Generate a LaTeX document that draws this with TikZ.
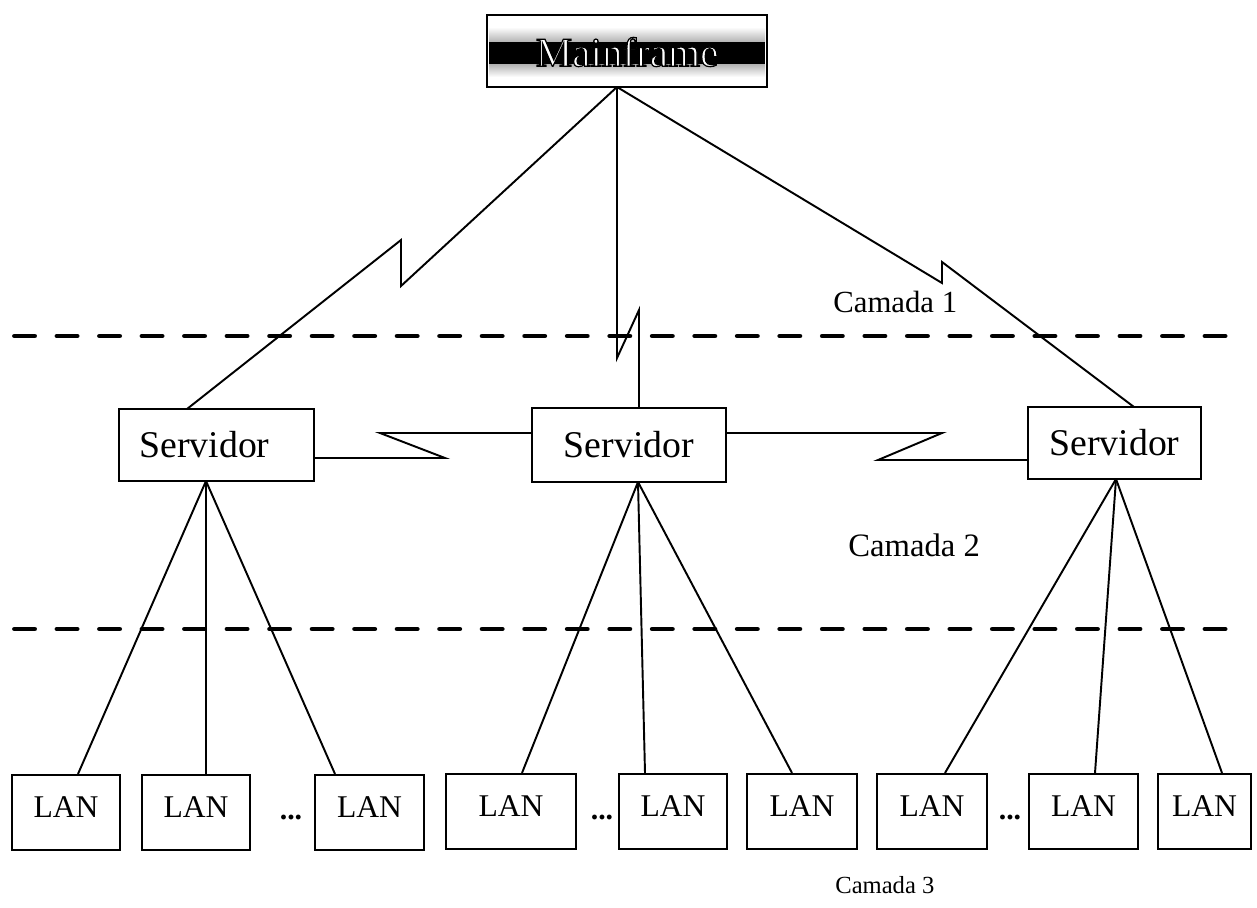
\documentclass[tikz,border=0pt]{standalone}
\usepackage{fontspec}
\setmainfont{Liberation Serif}
\usetikzlibrary{calc}
% white letters with a thin black outline (fill + stroke render mode)
\newcommand{\outlinedtext}[1]{\special{pdf:literal direct 0 G 2 Tr 0.7 w}#1\special{pdf:literal direct 0 Tr}}
\begin{document}
\begin{tikzpicture}[x=0.02cm,y=-0.02cm,
  frame/.style={draw,line width=1.2pt,inner sep=0pt,fill=white},
  serverbox/.style={frame,minimum height=1.44cm,font=\fontsize{21.5}{21.5}\selectfont},
  lanbox/.style={frame,minimum width=2.16cm,minimum height=1.5cm,text depth=6.5pt,font=\fontsize{18}{18}\selectfont},
  link/.style={line width=1.1pt,line join=miter},
  layer/.style={line width=2.8pt,line cap=round,dash pattern=on 11.4pt off 12.8pt},
  layername/.style={anchor=base west,inner sep=0pt,font=\fontsize{17.5}{17.5}\selectfont},
  more/.style={inner sep=0pt,font=\fontsize{17}{17}\selectfont\bfseries}]
\useasboundingbox (0,0) rectangle (1257,907);

% ---- mainframe ----
\node[frame,minimum width=5.6cm,minimum height=1.44cm] (mf) at (627,51) {};
\shade[top color=white,bottom color=gray!60] (489,27) rectangle (765,42);
\fill[black] (489,42) rectangle (765,64);
\shade[top color=gray!60,bottom color=white] (489,64) rectangle (765,77);
\node[inner sep=0pt,font=\fontsize{23.4}{23.4}\selectfont,text=white] (mft) at (627,52) {\outlinedtext{Mainframe}};
\coordinate (mfb) at (617,87);

% ---- servers ----
\node[serverbox,minimum width=3.9cm]  (s1) at (216.5,445) {Servidor\rule{0.48cm}{0pt}};
\node[serverbox,minimum width=3.88cm,minimum height=1.48cm] (s2) at (629,445) {Servidor};
\node[serverbox,minimum width=3.46cm] (s3) at (1114.5,443) {Servidor};

% ---- LANs ----
\node[lanbox] (l1) at (66,812.5) {LAN};
\node[lanbox] (l2) at (196,812.5) {LAN};
\node[lanbox,minimum width=2.18cm] (l3) at (369.5,812.5) {LAN};
\node[lanbox,minimum width=2.6cm]  (l4) at (511,811.5) {LAN};
\node[lanbox] (l5) at (673,811.5) {LAN};
\node[lanbox,minimum width=2.2cm]  (l6) at (802,811.5) {LAN};
\node[lanbox,minimum width=2.2cm]  (l7) at (932,811.5) {LAN};
\node[lanbox,minimum width=2.18cm] (l8) at (1083.5,811.5) {LAN};
\node[lanbox,minimum width=1.86cm] (l9) at (1204.5,811.5) {LAN};

\node[more] (d1) at (291,817) {...};
\node[more] (d2) at (602,817) {...};
\node[more] (d3) at (1010,817) {...};

% ---- radio links from the mainframe ----
\coordinate (a1) at (401,286);
\coordinate (a2) at (401,240);
\coordinate (s1t) at (187,409);
\draw[link] (mfb) -- (a1) -- (a2) -- (s1t);

\coordinate (b1) at (617,358);
\coordinate (b2) at (639,310);
\coordinate (s2t) at (639,408);
\draw[link] (mfb) -- (b1) -- (b2) -- (s2t);

\coordinate (c1) at (942,283);
\coordinate (c2) at (942,262);
\coordinate (s3t) at (1134,407);
\draw[link] (mfb) -- (c1) -- (c2) -- (s3t);

% ---- radio links between servers ----
\coordinate (e1) at (314,458);
\coordinate (e2) at (445,458);
\coordinate (e3) at (380,433);
\coordinate (e4) at (532,433);
\draw[link] (e1) -- (e2) -- (e3) -- (e4);

\coordinate (f1) at (726,433);
\coordinate (f2) at (942,433);
\coordinate (f3) at (878,460);
\coordinate (f4) at (1028,460);
\draw[link] (f1) -- (f2) -- (f3) -- (f4);

% ---- server to LAN links ----
\coordinate (s1b) at (206,481);
\coordinate (s2b) at (638,482);
\coordinate (s3b) at (1116,479);
\draw[link] (s1b) -- (l1.north -| 78,0);
\draw[link] (s1b) -- (l2.north -| 206,0);
\draw[link] (s1b) -- (l3.north -| 335,0);
\draw[link] (s2b) -- (l4.north -| 522,0);
\draw[link] (s2b) -- (l5.north -| 645,0);
\draw[link] (s2b) -- (l6.north -| 792,0);
\draw[link] (s3b) -- (l7.north -| 945,0);
\draw[link] (s3b) -- (l8.north -| 1095,0);
\draw[link] (s3b) -- (l9.north -| 1222,0);

% ---- layer separators ----
\coordinate (g1) at (14.5,336);
\coordinate (g2) at (1228,336);
\coordinate (h1) at (14.5,629);
\coordinate (h2) at (1228,629);
\draw[layer] (g1) -- (g2);
\draw[layer] (h1) -- (h2);

\node[layername] (cam1) at (833,312) {Camada 1};
\node[layername,font=\fontsize{18.6}{18.6}\selectfont] (cam2) at (848,556) {Camada 2};
\node[layername,font=\fontsize{14}{14}\selectfont] (cam3) at (835,893) {Camada 3};
\end{tikzpicture}
\end{document}
